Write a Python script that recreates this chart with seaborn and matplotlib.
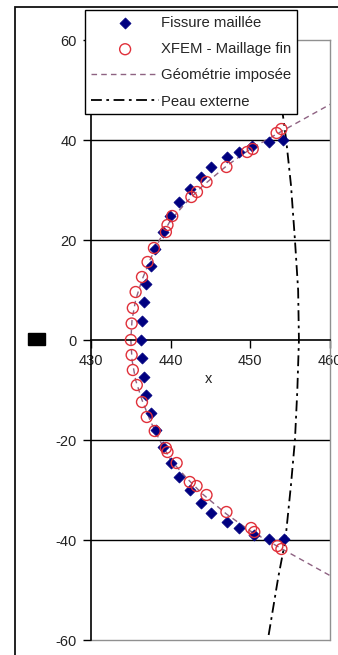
import matplotlib
matplotlib.use("Agg")
import matplotlib.pyplot as plt
import matplotlib.patches as mpatches
import seaborn as sns

# Fissure maillee (diamonds)
fiss_x = [454.25, 452.4, 450.5, 448.6, 447.1, 445.1, 443.75, 442.4, 441.1, 440.1, 439.0,
          438.1, 437.5, 436.9, 436.6, 436.4, 436.25, 436.4, 436.6, 436.9, 437.5, 438.0,
          439.1, 439.9, 441.1, 442.4, 443.75, 445.1, 447.1, 448.6, 450.25, 452.4, 454.1]
fiss_y = [-39.8, -39.8, -39.0, -37.6, -36.4, -34.6, -32.6, -30.0, -27.4, -24.6, -21.4,
          -18.0, -14.6, -11.0, -7.4, -3.6, 0.0, 3.8, 7.6, 11.2, 14.8, 18.2,
          21.6, 24.8, 27.6, 30.2, 32.6, 34.6, 36.6, 37.6, 38.8, 39.6, 40.0]

# XFEM - maillage fin (hollow circles)
xfem_x = [453.9, 453.4, 450.5, 450.1, 447.0, 444.5, 443.25, 442.4, 440.75, 439.6, 439.4,
          438.0, 437.0, 436.4, 435.75, 435.25, 435.1, 435.0, 435.1, 435.25, 435.6, 436.4,
          437.1, 437.9, 439.4, 439.6, 440.2, 442.6, 443.3, 444.5, 447.0, 449.6, 450.3,
          453.3, 453.9]
xfem_y = [-41.8, -41.2, -38.4, -37.6, -34.4, -31.0, -29.2, -28.4, -24.6, -22.4, -21.6,
          -18.2, -15.4, -12.4, -9.0, -6.0, -3.0, 0.0, 3.3, 6.4, 9.6, 12.6,
          15.6, 18.4, 21.6, 23.0, 24.8, 28.6, 29.6, 31.6, 34.6, 37.6, 38.2,
          41.4, 42.2]

# Geometrie imposee (dashed)
geo_x = [461.0, 454.0, 450.0, 447.0, 444.0, 442.0, 440.0, 438.6, 437.4, 436.4, 435.6,
         435.15, 435.0, 435.15, 435.6, 436.4, 437.4, 438.6, 440.0, 442.0, 444.0, 447.0,
         450.0, 454.0, 461.0]
geo_y = [-48.0, -41.8, -38.2, -34.8, -30.8, -27.6, -24.0, -20.0, -16.0, -12.0, -8.0,
         -4.0, 0.0, 4.0, 8.0, 12.0, 16.0, 20.0, 24.0, 27.6, 30.8, 34.8,
         38.2, 41.8, 48.0]

# Peau externe (dash-dot)
peau_x = [452.3, 453.5, 454.4, 455.1, 455.6, 455.9, 456.1, 456.0, 455.6, 455.1, 454.5, 454.0]
peau_y = [-59.0, -47.5, -40.0, -29.0, -20.0, -10.0, 0.0, 10.0, 20.0, 31.0, 40.0, 46.0]

labels = ["Fissure maillée", "XFEM - Maillage fin", "Géométrie imposée", "Peau externe"]
yticks = [-60, -40, -20, 0, 20, 40, 60]
xticks = [430, 440, 450, 460]

sns.set_theme(style="white")
plt.rcParams['font.family'] = ['Liberation Sans', 'DejaVu Sans']
plt.rcParams['axes.unicode_minus'] = False

W, H = 338, 655
fig = plt.figure(figsize=(W / 100, H / 100), dpi=100)
fig.patch.set_facecolor("white")
ax = fig.add_axes([91 / W, 15 / H, 239 / W, 600 / H])

sns.lineplot(x=geo_x, y=geo_y, sort=False, estimator=None, ax=ax, color="#8e6282",
             lw=1.0, dashes=False, label=labels[2], zorder=2)
sns.lineplot(x=peau_x, y=peau_y, sort=False, estimator=None, ax=ax, color="black",
             lw=1.3, label=labels[3], zorder=2)
ax.lines[0].set_dashes((4, 3))
ax.lines[1].set_dashes((6, 2.5, 1.5, 2.5))

sns.scatterplot(x=fiss_x, y=fiss_y, ax=ax, marker="D", s=32, color="#000080",
                edgecolor="#000080", linewidth=0.5, label=labels[0], zorder=3)
sns.scatterplot(x=xfem_x, y=xfem_y, ax=ax, marker="o", s=62, facecolor="none",
                edgecolor="#e0303a", linewidth=1.0, label=labels[1], zorder=4)

ax.set_xlim(430, 460)
ax.set_ylim(-60, 60)
ax.set_xticks(xticks)
ax.set_yticks(yticks)
ax.set_xticklabels([str(v) for v in xticks])
ax.set_yticklabels([str(v) for v in yticks])

ax.spines['bottom'].set_position(('data', 0))
ax.spines['bottom'].set_color('black')
ax.spines['bottom'].set_linewidth(1.2)
ax.spines['left'].set_color('black')
ax.spines['left'].set_linewidth(1.2)
for s in ['top', 'right']:
    ax.spines[s].set_color('#909090')
    ax.spines[s].set_linewidth(1.0)
ax.axhline(-60, color='#909090', lw=1.0, clip_on=False, zorder=1)

ax.yaxis.grid(True, color='black', lw=1.0)
gl = ax.get_ygridlines()
gl[0].set_visible(False)
gl[-1].set_visible(False)
gl[3].set_visible(False)

ax.tick_params(axis='both', which='major', direction='out', length=6, width=1,
               color='black', labelsize=10.5, labelcolor='#222222', pad=4,
               bottom=True, left=True)
ax.set_xlabel("x", fontsize=10.5, color='#222222')
ax.xaxis.set_label_coords(0.49, 0.447)
ax.set_ylabel("")

# legend
h, l = ax.get_legend_handles_labels()
order = [l.index(t) for t in labels]
leg = ax.legend([h[i] for i in order], [l[i] for i in order],
                loc='upper left', bbox_to_anchor=(85 / W, 1 - 10 / H),
                bbox_transform=fig.transFigure, borderaxespad=0,
                fontsize=10.7, handlelength=4.6, handletextpad=0.1,
                labelspacing=0.82, borderpad=0.4, fancybox=False,
                framealpha=1, edgecolor='black')
leg.get_frame().set_linewidth(1.0)
leg.set_zorder(10)

# outer chart frame and stray key square
fig.add_artist(mpatches.Rectangle((15 / W, -0.1), 1.0, 1.1 - 7 / H, transform=fig.transFigure,
                                  fill=False, edgecolor='#111111', lw=1.3))
fig.add_artist(mpatches.Rectangle((28 / W, (H - 345) / H), 17 / W, 12 / H,
                                  transform=fig.transFigure, color='black'))

fig.savefig("out.png", dpi=100)
